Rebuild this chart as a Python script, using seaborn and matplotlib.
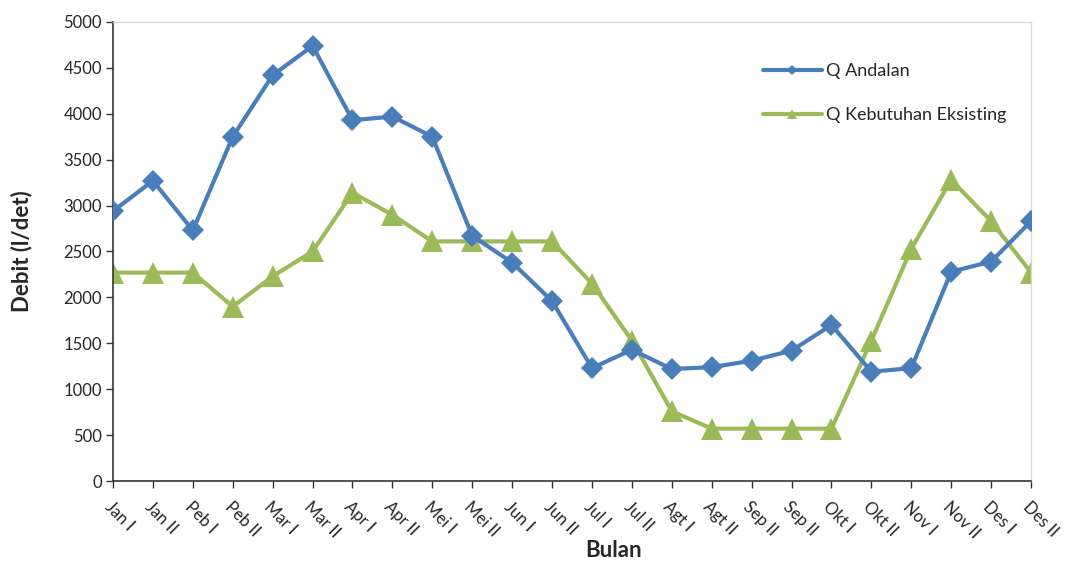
import matplotlib
matplotlib.use("Agg")
import matplotlib.pyplot as plt
from matplotlib.lines import Line2D
import numpy as np
import pandas as pd
import seaborn as sns

# Half-month periods
periods = ["Jan I", "Jan II", "Peb I", "Peb II", "Mar I", "Mar II", "Apr I", "Apr II",
           "Mei I", "Mei II", "Jun I", "Jun II", "Jul I", "Jul II", "Agt I", "Agt II",
           "Sep II", "Sep II", "Okt I", "Okt II", "Nov I", "Nov II", "Des I", "Des II"]

# Dependable discharge (l/det)
q_andalan = [2940, 3270, 2730, 3750, 4420, 4740, 3930, 3970, 3750, 2670, 2380, 1960,
             1230, 1430, 1220, 1240, 1310, 1420, 1700, 1190, 1230, 2280, 2390, 2830]

# Existing water demand (l/det)
q_kebutuhan = [2270, 2270, 2270, 1900, 2230, 2500, 3140, 2900, 2610, 2610, 2610, 2610,
               2150, 1530, 760, 570, 570, 570, 570, 1530, 2530, 3280, 2830, 2270]

y_ticks = list(range(0, 5001, 500))

sns.set_theme(style="white")
plt.rcParams["font.family"] = ["Lato", "DejaVu Sans"]

blue = "#4A7EBB"
green = "#9BBB59"

idx = np.arange(len(periods))
df = pd.DataFrame({"pos": idx, "andalan": q_andalan, "kebutuhan": q_kebutuhan})

fig = plt.figure(figsize=(10.68, 5.61), dpi=100)
ax = fig.add_axes([0.1058, 0.1426, 0.8596, 0.8182])

sns.lineplot(data=df, x="pos", y="andalan", ax=ax, color=blue, linewidth=3,
             marker="D", markersize=11, markeredgewidth=0, zorder=3)
sns.lineplot(data=df, x="pos", y="kebutuhan", ax=ax, color=green, linewidth=3,
             marker="^", markersize=16, markeredgewidth=0, zorder=2)

ax.set_xlim(0, len(periods) - 1)
ax.set_ylim(0, 5000)
ax.set_yticks(y_ticks)
ax.set_yticklabels([str(v) for v in y_ticks], fontsize=12)
ax.set_xticks(idx)
ax.set_xticklabels(periods, rotation=-45, ha="left", va="top",
                   rotation_mode="anchor", fontsize=12)

ax.tick_params(axis="both", which="both", direction="out", length=5, width=1,
               color="#333333", pad=3, left=True, bottom=True)
ax.tick_params(axis="x", pad=8)

for side in ["left", "bottom"]:
    ax.spines[side].set_color("#333333")
    ax.spines[side].set_linewidth(1.2)
for side in ["top", "right"]:
    ax.spines[side].set_color("#D9D9D9")
    ax.spines[side].set_linewidth(1)

ax.set_ylabel("Debit (l/det)", fontsize=16, fontweight="bold")
ax.yaxis.set_label_coords(-0.088, 0.5)
ax.set_xlabel("Bulan", fontsize=16, fontweight="bold")
ax.xaxis.set_label_coords(0.545, -0.128)

handles = [
    Line2D([], [], color=blue, linewidth=3, marker="D", markersize=5, markeredgewidth=0),
    Line2D([], [], color=green, linewidth=3, marker="^", markersize=7, markeredgewidth=0),
]
ax.legend(handles, ["Q Andalan", "Q Kebutuhan Eksisting"], loc="upper left",
          bbox_to_anchor=(0.69, 0.945), frameon=False, fontsize=13,
          handlelength=3.3, handletextpad=0.2, labelspacing=1.55)

fig.savefig("out.png", dpi=100)
